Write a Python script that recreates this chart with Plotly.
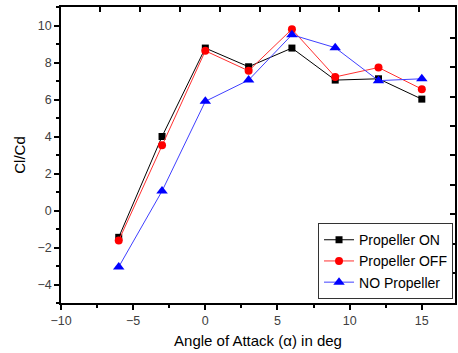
import plotly.graph_objects as go

aoa = [-6, -3, 0, 3, 6, 9, 12, 15]
prop_on = [-1.45, 4.0, 8.78, 7.77, 8.78, 7.05, 7.12, 6.02]
prop_off = [-1.62, 3.53, 8.63, 7.55, 9.8, 7.22, 7.73, 6.56]
no_prop = [-3.05, 1.05, 5.9, 7.05, 9.5, 8.8, 7.02, 7.12]

fig = go.Figure()
fig.add_trace(go.Scatter(x=aoa, y=prop_on, name="Propeller ON", mode="lines+markers",
                         line=dict(color="black", width=1),
                         marker=dict(symbol="square", size=7, color="black")))
fig.add_trace(go.Scatter(x=aoa, y=prop_off, name="Propeller OFF", mode="lines+markers",
                         line=dict(color="#ff3030", width=1),
                         marker=dict(symbol="circle", size=8, color="#ff0000")))
fig.add_trace(go.Scatter(x=aoa, y=no_prop, name="NO Propeller", mode="lines+markers",
                         line=dict(color="#4040ff", width=1),
                         marker=dict(symbol="triangle-up", size=10, color="#0000ff")))

# dummy traces for top and right decorative axes
fig.add_trace(go.Scatter(x=[None], y=[None], xaxis="x2", yaxis="y", showlegend=False))
fig.add_trace(go.Scatter(x=[None], y=[None], xaxis="x", yaxis="y2", showlegend=False))

tickfont = dict(family="Arial", size=12.5, color="#404040")
fig.update_layout(
    width=458, height=353,
    margin=dict(l=61, r=3, t=7, b=50),
    paper_bgcolor="white", plot_bgcolor="white",
    showlegend=True,
    xaxis=dict(range=[-10, 17.3], tickvals=[-10, -5, 0, 5, 10, 15], ticks="outside",
               ticklen=5, tickwidth=1.5, tickcolor="black",
               minor=dict(tickvals=[-7.5, -2.5, 2.5, 7.5, 12.5], ticks="outside", ticklen=3,
                          tickwidth=1.5, tickcolor="black"),
               showline=True, linecolor="black", linewidth=1.5, showgrid=False, zeroline=False,
               tickfont=tickfont,
               title=dict(text="Angle of Attack (α) in deg", font=dict(family="Arial", size=15, color="black"),
                          standoff=9)),
    yaxis=dict(range=[-5, 11], tickvals=[-4, -2, 0, 2, 4, 6, 8, 10], ticks="outside",
               ticklen=5, tickwidth=1.5, tickcolor="black",
               minor=dict(tickvals=[-5, -3, -1, 1, 3, 5, 7, 9, 11], ticks="outside", ticklen=3,
                          tickwidth=1.5, tickcolor="black"),
               showline=True, linecolor="black", linewidth=1.5, showgrid=False, zeroline=False,
               tickfont=tickfont,
               title=dict(text="Cl/Cd", font=dict(family="Arial", size=15, color="black"),
                          standoff=8)),
    xaxis2=dict(overlaying="x", side="top", range=[61, 455],
                tickvals=[100, 140, 180, 220, 260, 300, 339, 379, 419], ticks="inside",
                ticklen=5, tickwidth=1.5, tickcolor="black", showticklabels=False,
                showline=True, linecolor="black", linewidth=1.5, showgrid=False, zeroline=False),
    yaxis2=dict(overlaying="y", side="right", range=[302.7, 7],
                tickvals=[37.7, 67.1, 96.5, 125.9, 155.3, 184.7, 214.1, 243.5, 272.9], ticks="inside",
                ticklen=5, tickwidth=1.5, tickcolor="black", showticklabels=False,
                showline=True, linecolor="black", linewidth=1.5, showgrid=False, zeroline=False),
    legend=dict(x=0.995, y=0.013, xanchor="right", yanchor="bottom",
                bgcolor="white", bordercolor="#333333", borderwidth=1,
                font=dict(family="Arial", size=14, color="black"),
                tracegroupgap=0, itemwidth=30),
)

fig.write_html("out.html")
